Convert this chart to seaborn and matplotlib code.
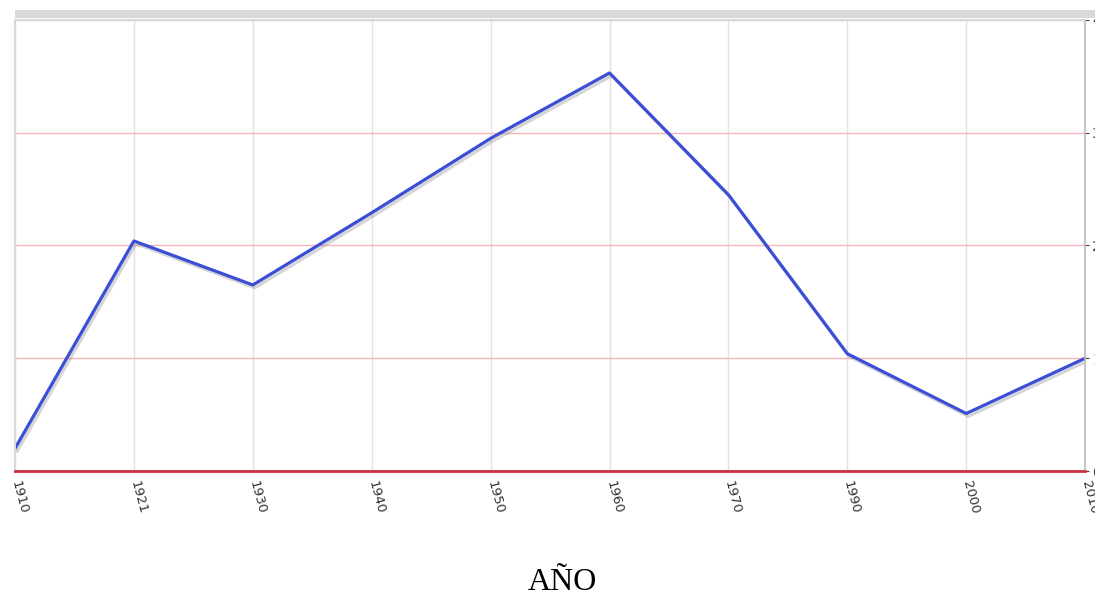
import matplotlib
matplotlib.use("Agg")
import matplotlib.pyplot as plt
import matplotlib.patheffects as pe
from matplotlib.patches import Rectangle
import seaborn as sns
import pandas as pd

# values
years = ["1910", "1921", "1930", "1940", "1950", "1960", "1970", "1990", "2000", "2010"]
values = [0.2, 2.04, 1.65, 2.29, 2.95, 3.53, 2.45, 1.04, 0.51, 1.0]
y_ticks = [0, 1, 2, 3, 4]

df = pd.DataFrame({"year": years, "value": values})

sns.set_style("white")
fig = plt.figure(figsize=(10.95, 5.95), dpi=100)
ax = fig.add_axes([0.0137, 0.2084, 0.9773, 0.758])

# grey strip above the plot area
fig.add_artist(Rectangle((0.0137, 0.970), 0.99, 0.013, transform=fig.transFigure,
                         facecolor="#d9d9d9", edgecolor="none"))

sns.lineplot(data=df, x="year", y="value", sort=False, color="#3a4ed6", linewidth=2.3,
             ax=ax, path_effects=[pe.SimpleLineShadow(offset=(1.5, -2), shadow_color="#888888", alpha=0.35),
                                  pe.Normal()])

ax.set_xlim(0, len(years) - 1)
ax.set_ylim(0, 4)
ax.set_yticks(y_ticks)
ax.yaxis.tick_right()
ax.tick_params(axis="y", labelsize=10, length=3, pad=2, colors="#444444")
ax.tick_params(axis="x", length=0, pad=7)

ax.grid(axis="x", color="#e2e2e2", linewidth=1)
ax.grid(axis="y", color="#f4b6ba", linewidth=1)
ax.set_axisbelow(True)

for lab in ax.get_xticklabels():
    lab.set_rotation(-75)
    lab.set_rotation_mode("anchor")
    lab.set_ha("left")
    lab.set_va("center")
    lab.set_fontsize(9.5)
    lab.set_color("#333333")

for side in ["left", "top"]:
    ax.spines[side].set_color("#d8d8d8")
    ax.spines[side].set_linewidth(1.5)
ax.spines["right"].set_color("#bbbbbb")
ax.spines["right"].set_linewidth(1.2)
ax.spines["bottom"].set_color("#c8303c")
ax.spines["bottom"].set_linewidth(2)

ax.set_ylabel("")
ax.set_xlabel("AÑO", fontsize=23, family="Liberation Serif", color="black")
ax.xaxis.set_label_coords(0.512, -0.215)

fig.savefig("out.png", dpi=100)
